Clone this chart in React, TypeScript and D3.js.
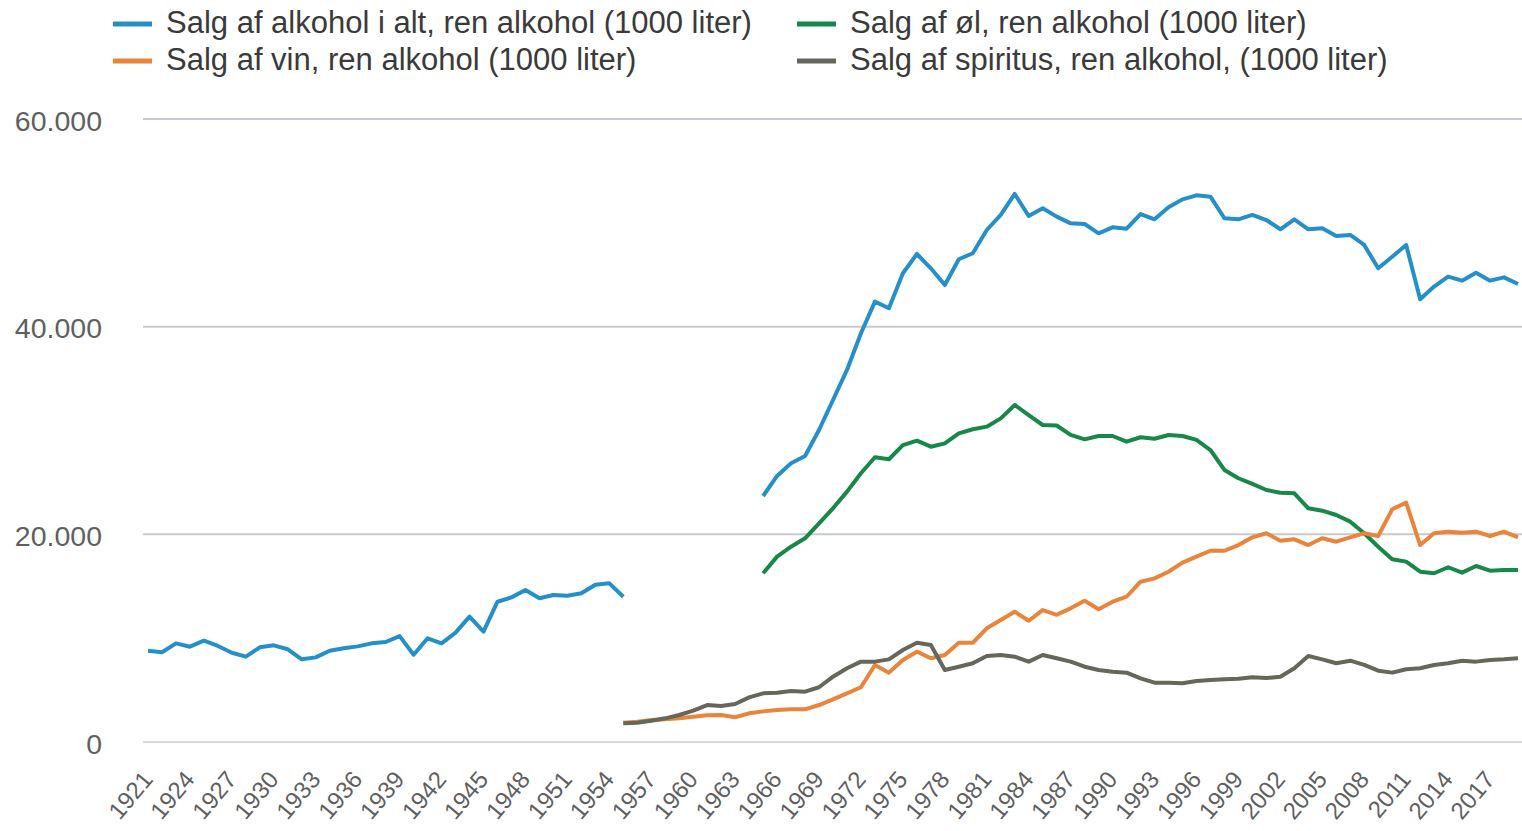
import React, { useEffect, useRef } from 'react';
import * as d3 from 'd3';

// years 1921-2019
const years: number[] = d3.range(1921, 2020);
const labelYears: number[] = d3.range(1921, 2020, 3);
const yTicks = [0, 20000, 40000, 60000];

const N = null;
const none = (n: number) => Array(n).fill(N);

// Salg af alkohol i alt (1000 liter)
const total: (number | null)[] = [
  8790, 8640, 9500, 9180, 9760, 9250, 8600, 8220, 9120, 9310,
  8930, 7960, 8150, 8790, 9020, 9210, 9500, 9630, 10200, 8410,
  9990, 9500, 10530, 12070, 10630, 13510, 13930, 14640, 13840, 14160,
  14090, 14320, 15150, 15280, 13990,
  ...none(9),
  23690, 25620, 26840, 27540, 30050, 32940, 35830, 39360, 42410, 41770,
  45140, 47000, 45620, 44010, 46490, 47070, 49310, 50760, 52780, 50660,
  51400, 50600, 49950, 49890, 48990, 49570, 49440, 50850, 50340, 51500,
  52260, 52650, 52520, 50440, 50340, 50760, 50270, 49380, 50340, 49380,
  49470, 48730, 48830, 47870, 45620, 46740, 47870, 42640, 43860, 44820,
  44430, 45200, 44430, 44750, 44110,
];

// Salg af øl
const beer: (number | null)[] = [
  ...none(44),
  16250, 17850, 18810, 19620, 21060, 22510, 24110, 25880, 27420, 27230,
  28600, 29020, 28440, 28760, 29730, 30120, 30370, 31170, 32460, 31490,
  30530, 30480, 29570, 29150, 29470, 29470, 28920, 29350, 29210, 29570,
  29470, 29090, 28120, 26200, 25400, 24850, 24270, 24010, 23950, 22510,
  22280, 21860, 21220, 20100, 18810, 17600, 17370, 16400, 16250, 16830,
  16310, 16950, 16500, 16570, 16570,
];

// Salg af vin
const wine: (number | null)[] = [
  ...none(34),
  1860, 1960, 2120, 2180, 2280, 2440, 2570, 2600, 2380, 2760,
  2950, 3080, 3150, 3150, 3560, 4110, 4690, 5270, 7420, 6680,
  7900, 8700, 8060, 8380, 9560, 9560, 10950, 11750, 12550, 11680,
  12700, 12250, 12870, 13610, 12780, 13510, 13990, 15440, 15760, 16400,
  17270, 17850, 18420, 18420, 18970, 19710, 20100, 19390, 19520, 18970,
  19620, 19290, 19710, 20100, 19840, 22410, 23050, 18970, 20100, 20260,
  20160, 20260, 19840, 20260, 19710,
];

// Salg af spiritus
const spirits: (number | null)[] = [
  ...none(34),
  1800, 1860, 2050, 2280, 2600, 3020, 3560, 3470, 3660, 4300,
  4690, 4750, 4910, 4850, 5270, 6290, 7100, 7740, 7740, 7960,
  8860, 9560, 9340, 6930, 7250, 7580, 8280, 8380, 8220, 7740,
  8380, 8060, 7740, 7250, 6930, 6770, 6680, 6130, 5710, 5710,
  5650, 5870, 5970, 6040, 6100, 6230, 6160, 6290, 7100, 8280,
  7960, 7580, 7830, 7420, 6870, 6680, 7000, 7100, 7420, 7580,
  7830, 7740, 7900, 7960, 8060,
];

const series = [
  { name: 'Salg af alkohol i alt, ren alkohol (1000 liter)', values: total, color: '#2590c8' },
  { name: 'Salg af vin, ren alkohol (1000 liter)', values: wine, color: '#e9843a' },
  { name: 'Salg af øl, ren alkohol (1000 liter)', values: beer, color: '#17884a' },
  { name: 'Salg af spiritus, ren alkohol, (1000 liter)', values: spirits, color: '#66665a' },
];

const W = 1522;
const H = 831;
const FONT = '"Liberation Sans", Arial, sans-serif';

const App = () => {
  const ref = useRef<SVGSVGElement>(null);

  useEffect(() => {
    const svg = d3.select(ref.current);
    svg.selectAll('*').remove();

    const x = d3.scalePoint<number>().domain(years).range([148, 1518]);
    const y = d3.scaleLinear().domain([0, 60000]).range([742, 119]);
    const fmt = d3.formatLocale({ decimal: ',', thousands: '.', grouping: [3], currency: ['', ' kr'] }).format(',d');

    // gridlines
    svg.append('g')
      .selectAll('line')
      .data(yTicks)
      .enter()
      .append('line')
      .attr('x1', 143)
      .attr('x2', W)
      .attr('y1', d => y(d))
      .attr('y2', d => y(d))
      .attr('stroke', d => (d === 0 ? '#d6d9e0' : '#c6cad0'))
      .attr('stroke-width', 2);

    // y labels
    svg.append('g')
      .selectAll('text')
      .data(yTicks)
      .enter()
      .append('text')
      .attr('x', 102)
      .attr('y', d => y(d) + 4)
      .attr('text-anchor', 'end')
      .attr('dominant-baseline', 'middle')
      .attr('font-family', FONT)
      .attr('font-size', 28.5)
      .attr('fill', '#5f5f5f')
      .text(d => fmt(d));

    // x labels
    svg.append('g')
      .selectAll('text')
      .data(labelYears)
      .enter()
      .append('text')
      .attr('transform', d => `translate(${(x(d) as number) + 6},780) rotate(-50)`)
      .attr('text-anchor', 'end')
      .attr('font-family', FONT)
      .attr('font-size', 24)
      .attr('fill', '#5f5f5f')
      .text(d => d);

    // lines
    const line = d3.line<number | null>()
      .defined(d => d !== null)
      .x((_, i) => x(years[i]) as number)
      .y(d => y(d as number));

    const drawOrder = [0, 2, 1, 3];
    drawOrder.forEach(i => {
      const s = series[i];
      svg.append('path')
        .datum(s.values)
        .attr('fill', 'none')
        .attr('stroke', s.color)
        .attr('stroke-width', 4)
        .attr('stroke-linejoin', 'round')
        .attr('d', line);
    });

    // legend
    const legendPos = [
      { x: 113, y: 24 },
      { x: 113, y: 61 },
      { x: 797, y: 24 },
      { x: 797, y: 61 },
    ];
    const legend = svg.append('g')
      .selectAll('g')
      .data(series)
      .enter()
      .append('g')
      .attr('transform', (_, i) => `translate(${legendPos[i].x},${legendPos[i].y})`);
    legend.append('line')
      .attr('x1', 0)
      .attr('x2', 39)
      .attr('stroke', d => d.color)
      .attr('stroke-width', 5);
    legend.append('text')
      .attr('x', 53)
      .attr('y', 1)
      .attr('dominant-baseline', 'middle')
      .attr('font-family', FONT)
      .attr('font-size', 31)
      .attr('fill', '#3a3a3a')
      .text(d => d.name);
  }, []);

  return (
    <svg
      ref={ref}
      width={W}
      height={H}
      style={{ position: 'absolute', left: 0, top: 0, background: '#fff' }}
    />
  );
};

export default App;
